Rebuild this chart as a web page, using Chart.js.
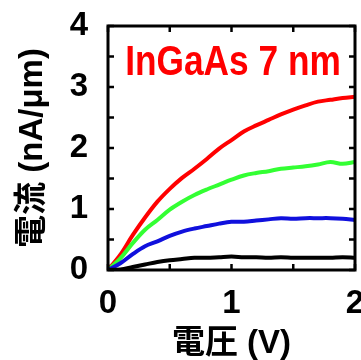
<!DOCTYPE html>
<html>
<head>
<meta charset="utf-8">
<script src="https://cdn.jsdelivr.net/npm/chart.js@4"></script>
<style>
  html, body { margin: 0; padding: 0; background: #fff; }
  #wrap { width: 361px; height: 360px; }
</style>
</head>
<body>
<div id="wrap"><canvas id="grafico"></canvas></div>
<script>
// voltage (V)
var voltage = [0, 0.1, 0.2, 0.3, 0.4, 0.5, 0.6, 0.7, 0.8, 0.9, 1.0, 1.1, 1.2, 1.3, 1.4, 1.5, 1.6, 1.7, 1.8, 1.9, 2.0];
// current (nA/um), one array per curve
var redCurve   = [0, 0.25, 0.57, 0.86, 1.12, 1.33, 1.51, 1.66, 1.82, 1.99, 2.13, 2.27, 2.37, 2.46, 2.55, 2.63, 2.70, 2.76, 2.79, 2.82, 2.84];
var greenCurve = [0, 0.19, 0.44, 0.66, 0.82, 0.99, 1.12, 1.23, 1.32, 1.40, 1.48, 1.55, 1.59, 1.62, 1.66, 1.68, 1.70, 1.73, 1.77, 1.74, 1.77];
var blueCurve  = [0, 0.11, 0.26, 0.39, 0.47, 0.56, 0.63, 0.68, 0.72, 0.76, 0.79, 0.79, 0.81, 0.83, 0.85, 0.84, 0.85, 0.85, 0.85, 0.84, 0.82];
var blackCurve = [0, 0.01, 0.05, 0.09, 0.13, 0.16, 0.18, 0.20, 0.20, 0.21, 0.22, 0.21, 0.21, 0.20, 0.21, 0.20, 0.20, 0.20, 0.20, 0.21, 0.20];
var xTicks = [0, 0.5, 1, 1.5, 2];
var yTicks = [0, 0.5, 1, 1.5, 2, 2.5, 3, 3.5, 4];
var label = "InGaAs 7 nm";

var fontFam = "'Liberation Sans', 'Noto Sans CJK JP', Arial, sans-serif";

function pts(ys) {
    return voltage.map(function (v, i) { return { x: v, y: ys[i] }; });
}

function serie(ys, cor) {
    return {
        data: pts(ys),
        borderColor: cor,
        borderWidth: 4,
        pointRadius: 0,
        tension: 0.35,
        fill: false
    };
}

// frame + inward ticks on all four sides
var moldura = {
    id: "moldura",
    afterDatasetsDraw: function (chart) {
        var ctx = chart.ctx, a = chart.chartArea;
        var sx = chart.scales.x, sy = chart.scales.y;
        ctx.save();
        ctx.strokeStyle = "#000";
        ctx.lineWidth = 2.5;
        ctx.beginPath();
        xTicks.forEach(function (t) {
            var px = sx.getPixelForValue(t);
            ctx.moveTo(px, a.bottom); ctx.lineTo(px, a.bottom - 6);
            ctx.moveTo(px, a.top); ctx.lineTo(px, a.top + 6);
        });
        yTicks.forEach(function (t) {
            var py = sy.getPixelForValue(t);
            ctx.moveTo(a.left, py); ctx.lineTo(a.left + 6, py);
            ctx.moveTo(a.right, py); ctx.lineTo(a.right - 6, py);
        });
        ctx.stroke();
        ctx.lineWidth = 3;
        ctx.strokeRect(a.left, a.top, a.right - a.left, a.bottom - a.top);
        ctx.restore();
    }
};

// red label inside the plot
var rotulo = {
    id: "rotulo",
    afterDraw: function (chart) {
        var ctx = chart.ctx;
        ctx.save();
        ctx.fillStyle = "#ff0000";
        ctx.font = "bold 42px " + fontFam;
        ctx.textAlign = "center";
        ctx.textBaseline = "alphabetic";
        ctx.translate(233, 75);
        ctx.scale(0.84, 1);
        ctx.fillText(label, 0, 0);
        ctx.restore();
    }
};

var canvasElement = document.getElementById("grafico");

var config = {
    type: "line",
    data: {
        datasets: [
            serie(blackCurve, "#000000"),
            serie(blueCurve, "#1010dd"),
            serie(greenCurve, "#33ff33"),
            serie(redCurve, "#ff0000")
        ]
    },
    options: {
        responsive: true,
        maintainAspectRatio: false,
        animation: false,
        layout: { padding: { left: 0, right: 6, top: 26, bottom: 0 } },
        plugins: { legend: { display: false }, tooltip: { enabled: false } },
        scales: {
            x: {
                type: "linear",
                min: 0,
                max: 2,
                grid: { display: false, drawTicks: false },
                border: { display: false },
                ticks: {
                    stepSize: 1,
                    padding: 14,
                    color: "#000",
                    font: { family: fontFam, size: 33, weight: "bold" }
                },
                title: {
                    display: true,
                    text: "電圧 (V)",
                    color: "#000",
                    padding: { top: 0, bottom: 0 },
                    font: { family: fontFam, size: 33, weight: "bold", lineHeight: 1.0 }
                },
                afterFit: function (s) {
                    s.height = 90;
                    s.paddingLeft = 0; s.paddingRight = 0;
                }
            },
            y: {
                min: 0,
                max: 4,
                grid: { display: false, drawTicks: false },
                border: { display: false },
                ticks: {
                    stepSize: 1,
                    padding: 20,
                    color: "#000",
                    font: { family: fontFam, size: 33, weight: "bold" }
                },
                title: {
                    display: true,
                    text: "電流 (nA/μm)",
                    color: "#000",
                    padding: { top: 16, bottom: 0 },
                    font: { family: fontFam, size: 33, weight: "bold", lineHeight: 1.0 }
                },
                afterFit: function (s) {
                    s.width = 108;
                    s.paddingTop = 0; s.paddingBottom = 0;
                }
            }
        }
    },
    plugins: [moldura, rotulo]
};

var graficoCorrente = new Chart(canvasElement, config);
</script>
</body>
</html>
